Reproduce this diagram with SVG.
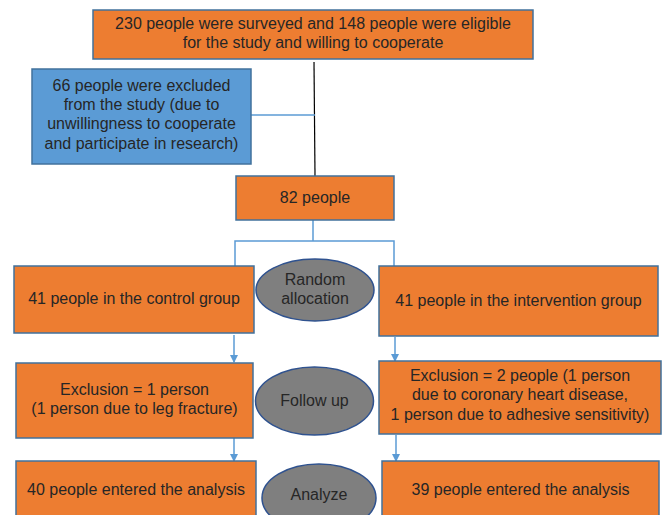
<svg xmlns="http://www.w3.org/2000/svg" width="662" height="515" viewBox="0 0 662 515">
<defs>
<style>
.box{fill:#ED7D31;stroke:#41719C;stroke-width:1.5}
.blue{fill:#5B9BD5;stroke:#41719C;stroke-width:1.5}
.oval{fill:#7F7F7F;stroke:#2F528F;stroke-width:1.5}
text{font-family:"Liberation Sans",Arial,sans-serif;font-size:16px;fill:#262626;text-anchor:middle}
.ln{stroke:#5B9BD5;stroke-width:1.5;fill:none}
.arr{stroke:#5B9BD5;stroke-width:1.5;fill:none;marker-end:url(#ah)}
</style>
<marker id="ah" markerWidth="8" markerHeight="8" refX="7" refY="4" orient="auto" markerUnits="userSpaceOnUse">
<path d="M0,0 L8,4 L0,8 Z" fill="#5B9BD5"/>
</marker>
</defs>
<rect width="662" height="515" fill="#fff"/>
<g id="connectors">
<line x1="314" y1="62" x2="315" y2="176" stroke="#000" stroke-width="1.2"/>
<line class="ln" x1="251" y1="115" x2="315" y2="115"/>
<polyline class="ln" points="313,220 313,241"/>
<polyline class="ln" points="235,266 235,241 394,241 394,266"/>
<line class="arr" x1="234" y1="335" x2="234" y2="362"/>
<line class="arr" x1="395" y1="337" x2="395" y2="361"/>
<line class="arr" x1="234" y1="438" x2="234" y2="461"/>
<line class="arr" x1="396" y1="435" x2="396" y2="461"/>
</g>
<g id="n-surveyed">
<rect class="box" x="93" y="10" width="440" height="49"/>
<text x="313" y="29">230 people were surveyed and 148 people were eligible</text>
<text x="313" y="48">for the study and willing to cooperate</text>
</g>
<g id="n-excluded">
<rect class="blue" x="32" y="69" width="219" height="95"/>
<text x="141.5" y="91">66 people were excluded</text>
<text x="141.5" y="110">from the study (due to</text>
<text x="141.5" y="129">unwillingness to cooperate</text>
<text x="141.5" y="149">and participate in research)</text>
</g>
<g id="n-82">
<rect class="box" x="236" y="176" width="158" height="44"/>
<text x="315" y="203">82 people</text>
</g>
<g id="n-control">
<rect class="box" x="14" y="266" width="240" height="67"/>
<text x="134" y="304">41 people in the control group</text>
</g>
<g id="n-random">
<ellipse class="oval" cx="315" cy="290" rx="59" ry="31"/>
<text x="315" y="285">Random</text>
<text x="315" y="304">allocation</text>
</g>
<g id="n-intervention">
<rect class="box" x="379" y="266" width="279" height="70"/>
<text x="518.5" y="306">41 people in the intervention group</text>
</g>
<g id="n-excl-control">
<rect class="box" x="16" y="363" width="237" height="75"/>
<text x="134.5" y="395">Exclusion = 1 person</text>
<text x="134.5" y="414">(1 person due to leg fracture)</text>
</g>
<g id="n-followup">
<ellipse class="oval" cx="314.5" cy="401" rx="59" ry="34"/>
<text x="314.5" y="406">Follow up</text>
</g>
<g id="n-excl-intervention">
<rect class="box" x="379" y="361" width="282" height="73"/>
<text x="520" y="381">Exclusion = 2 people (1 person</text>
<text x="520" y="400">due to coronary heart disease,</text>
<text x="520" y="420">1 person due to adhesive sensitivity)</text>
</g>
<g id="n-analysis-control">
<rect class="box" x="16" y="461" width="240" height="60"/>
<text x="136" y="495">40 people entered the analysis</text>
</g>
<g id="n-analyze">
<ellipse class="oval" cx="319" cy="498" rx="57" ry="34"/>
<text x="319" y="500">Analyze</text>
</g>
<g id="n-analysis-intervention">
<rect class="box" x="382" y="461" width="277" height="60"/>
<text x="520.5" y="495">39 people entered the analysis</text>
</g>
</svg>
